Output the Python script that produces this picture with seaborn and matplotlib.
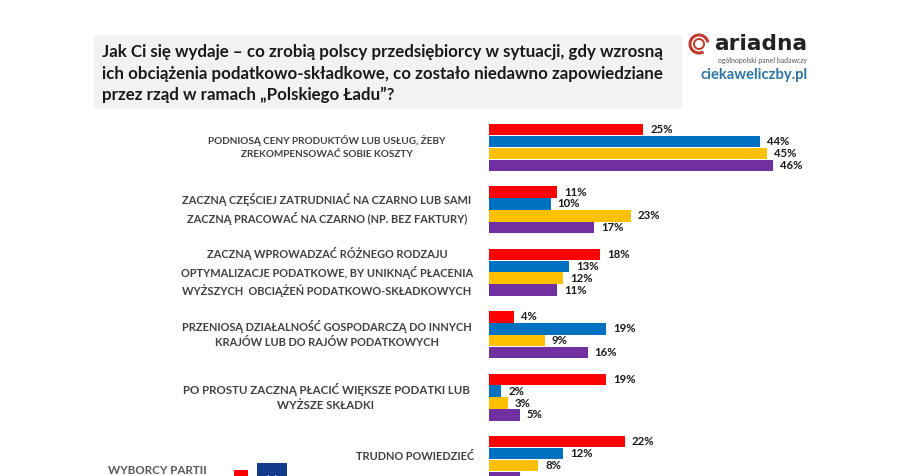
import matplotlib
matplotlib.use('Agg')
import matplotlib.pyplot as plt
from matplotlib.patches import Rectangle, Circle, Wedge
import pandas as pd
import seaborn as sns

categories = ['a', 'b', 'c', 'd', 'e', 'f']
labels = [
    'PODNIOSĄ CENY PRODUKTÓW LUB USŁUG, ŻEBY\nZREKOMPENSOWAĆ SOBIE KOSZTY',
    'ZACZNĄ CZĘŚCIEJ ZATRUDNIAĆ NA CZARNO LUB SAMI\nZACZNĄ PRACOWAĆ NA CZARNO (NP. BEZ FAKTURY)',
    'ZACZNĄ WPROWADZAĆ RÓŻNEGO RODZAJU\nOPTYMALIZACJE PODATKOWE, BY UNIKNĄĆ PŁACENIA\nWYŻSZYCH  OBCIĄŻEŃ PODATKOWO-SKŁADKOWYCH',
    'PRZENIOSĄ DZIAŁALNOŚĆ GOSPODARCZĄ DO INNYCH\nKRAJÓW LUB DO RAJÓW PODATKOWYCH',
    'PO PROSTU ZACZNĄ PŁACIĆ WIĘKSZE PODATKI LUB\nWYŻSZE SKŁADKI',
    'TRUDNO POWIEDZIEĆ',
]
series_names = ['PiS', 'KO', 'Polska 2050', 'Konfederacja']
pis = [25, 11, 18, 4, 19, 22]
ko = [44, 10, 13, 19, 2, 12]
p2050 = [45, 23, 12, 9, 3, 8]
konf = [46, 17, 11, 16, 5, 5]
colors = ['#ff0000', '#0070c0', '#ffc000', '#7030a0']

W, H = 903, 476
plt.rcParams['font.family'] = ['Lato', 'DejaVu Sans']

df = pd.DataFrame({'cat': categories, series_names[0]: pis, series_names[1]: ko,
                   series_names[2]: p2050, series_names[3]: konf})
df = df.melt(id_vars='cat', var_name='who', value_name='val')

fig = plt.figure(figsize=(W / 100, H / 100), dpi=100)

# background layer in pixel coordinates
bg = fig.add_axes([0, 0, 1, 1])
bg.set_xlim(0, W)
bg.set_ylim(H, 0)
bg.axis('off')
bg.add_patch(Rectangle((94, 35), 588, 74, color='#f2f2f2', lw=0))
title = ['Jak Ci się wydaje – co zrobią polscy przedsiębiorcy w sytuacji, gdy wzrosną',
         'ich obciążenia podatkowo-składkowe, co zostało niedawno zapowiedziane',
         'przez rząd w ramach „Polskiego Ładu”?']
for i, line in enumerate(title):
    bg.text(102, 52 + i * 21.5, line, fontsize=12.2, fontweight='bold', color='#1a1a1a', va='center')

# logo
bg.add_patch(Wedge((699, 44), 10.5, 60, 350, width=3, color='#c0392b', lw=0))
bg.add_patch(Circle((699, 44), 5, fill=False, ec='#c0392b', lw=1.4))
bg.text(714, 44, 'ariadna', fontsize=15.6, fontweight='bold', family='DejaVu Sans', color='#222222', va='center')
bg.text(807, 61, 'ogólnopolski panel badawczy', fontsize=5, color='#555555', va='center', ha='right')
bg.text(808, 75, 'ciekaweliczby.pl', fontsize=10.6, fontweight='bold', color='#2e75a6', va='center', ha='right')

# row labels
label_x = [327, 327, 327, 327, 326, 415]
label_y = [147, 209, 272, 334, 397, 457]
label_size = [7.2, 7.9, 7.9, 7.9, 8.3, 7.9]
for s, lx, ly, fs in zip(labels, label_x, label_y, label_size):
    bg.text(lx, ly, s, fontsize=fs, fontweight='bold', color='#404040', ha='center', va='center',
            linespacing=1.5 * 7.9 / fs)

# cut-off legend at the bottom
bg.text(108, 471, 'WYBORCY PARTII', fontsize=8.4, fontweight='bold', color='#595959', va='center')
bg.add_patch(Rectangle((234, 470), 14, 8, color='#ff0000', lw=0))
bg.add_patch(Rectangle((257, 463), 30, 15, color='#123a8c', lw=0))
bg.add_patch(Wedge((272, 474), 5, 20, 160, width=1.5, color='white', lw=0))

# bars
top, bottom = 116, H
pitch = 62.4
ax = fig.add_axes([489 / W, 0, (W - 489) / W, (H - top) / H])
ax.patch.set_alpha(0)
sns.barplot(data=df, y='cat', x='val', hue='who', order=categories, hue_order=series_names,
            palette=colors, orient='h', width=0.76, gap=0.03, saturation=1, legend=False, ax=ax)
ax.set_xlim(0, (W - 489) / 6.17)
ax.set_ylim((bottom - 147.5) / pitch, (top - 147.5) / pitch)
ax.axis('off')
for c in ax.containers:
    ax.bar_label(c, fmt='%g%%', padding=5, fontsize=8.2, fontweight='bold', color='#1a1a1a', clip_on=True)

fig.savefig('out.png', dpi=100)
